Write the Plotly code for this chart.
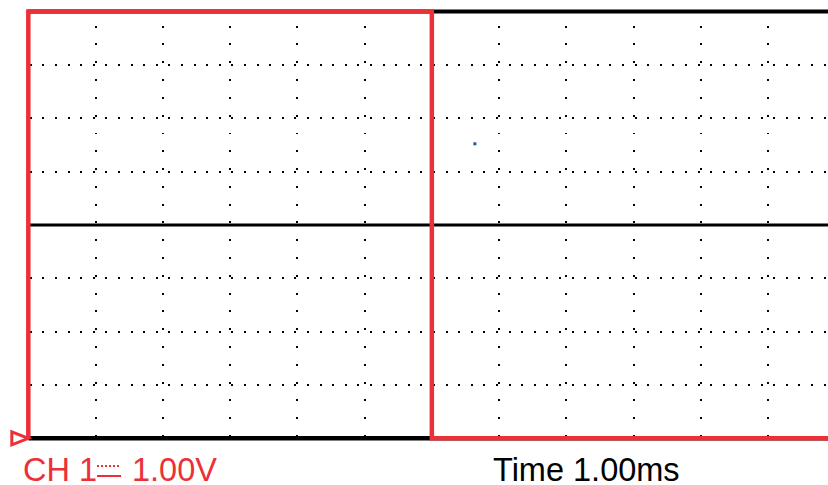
import plotly.graph_objects as go

# ---- data (divisions) ----
signal_t = [0, 0, 6, 6, 12]          # time, divisions
signal_v = [-4, 4, 4, -4, -4]        # volts, divisions
cursor_t = [6.64]
cursor_v = [1.52]
ch_name = "CH 1"
ch_scale = "1.00V"
time_label = "Time 1.00ms"
x_range = [-0.094, 11.891]
y_range = [-4.107, 4.103]
y_half = 4

RED = "#ec3038"
BLACK = "#000000"

W, H = 828, 485
ML, MR, MT, MB = 22, 0, 6, 41
PW, PH = W - ML - MR, H - MT - MB


def px_to_paper_x(px):
    return (px - ML) / PW


def px_to_paper_y(py):
    return (H - MB - py) / PH


fig = go.Figure()

fig.add_trace(go.Scatter(x=signal_t, y=signal_v, mode="lines",
                         line=dict(color=RED, width=4.5), hoverinfo="skip",
                         showlegend=False))
fig.add_trace(go.Scatter(x=cursor_t, y=cursor_v, mode="markers",
                         marker=dict(symbol="square", size=3, color="#1f5aa6"),
                         hoverinfo="skip", showlegend=False))

vdash = "0px,19.7px," + ",".join(["2px,15.8px"] * 26)
hdash = "0px,7.7px," + ",".join(["2px,10.6px"] * 70)

fig.update_xaxes(range=x_range, dtick=1, tick0=0, showgrid=True,
                 gridcolor=BLACK, gridwidth=2, griddash=vdash,
                 zeroline=False, showticklabels=False, ticks="", showline=False,
                 fixedrange=True)
fig.update_yaxes(range=y_range, dtick=1, tick0=0, showgrid=True,
                 gridcolor=BLACK, gridwidth=2, griddash=hdash,
                 zeroline=False, showticklabels=False, ticks="", showline=False,
                 fixedrange=True)

x0_paper = (0 - x_range[0]) / (x_range[1] - x_range[0])
ybot_paper = (-y_half - y_range[0]) / (y_range[1] - y_range[0])

shapes = [
    dict(type="line", xref="x", yref="y", x0=0, x1=x_range[1], y0=y_half, y1=y_half,
         line=dict(color=BLACK, width=4), layer="below"),
    dict(type="line", xref="x", yref="y", x0=0, x1=x_range[1], y0=0, y1=0,
         line=dict(color=BLACK, width=3), layer="below"),
    dict(type="line", xref="x", yref="y", x0=0, x1=x_range[1], y0=-y_half, y1=-y_half,
         line=dict(color=BLACK, width=4.5), layer="below"),
    # ground/reference marker
    dict(type="path", xref="paper", yref="paper", xsizemode="pixel", ysizemode="pixel",
         xanchor=x0_paper, yanchor=ybot_paper, path="M-16.5,6.5 L0,0 L-16.5,-6.5 Z",
         line=dict(color=RED, width=3)),
    # DC coupling symbol: dotted over solid
    dict(type="line", xref="paper", yref="paper",
         x0=px_to_paper_x(97), x1=px_to_paper_x(121),
         y0=px_to_paper_y(466), y1=px_to_paper_y(466),
         line=dict(color=RED, width=2, dash="2px,2px")),
    dict(type="line", xref="paper", yref="paper",
         x0=px_to_paper_x(97), x1=px_to_paper_x(121),
         y0=px_to_paper_y(476), y1=px_to_paper_y(476),
         line=dict(color=RED, width=2)),
]

fig.update_layout(
    width=W, height=H,
    margin=dict(l=ML, r=MR, t=MT, b=MB),
    paper_bgcolor="white", plot_bgcolor="white",
    shapes=shapes,
    font=dict(family="Liberation Sans, Arial, sans-serif"),
    annotations=[
        dict(text=ch_name, xref="paper", yref="paper", x=px_to_paper_x(20.5),
             y=px_to_paper_y(470), xanchor="left", yanchor="middle", showarrow=False,
             font=dict(size=32.5, color=RED)),
        dict(text=ch_scale, xref="paper", yref="paper", x=px_to_paper_x(129.6),
             y=px_to_paper_y(470), xanchor="left", yanchor="middle", showarrow=False,
             font=dict(size=32.5, color=RED)),
        dict(text=time_label, xref="paper", yref="paper", x=px_to_paper_x(490.5),
             y=px_to_paper_y(470), xanchor="left", yanchor="middle", showarrow=False,
             font=dict(size=32.5, color=BLACK)),
    ],
)

fig.write_html("out.html", config={"displayModeBar": False},
               post_script="document.body.style.margin='0';document.body.style.overflow='hidden';")
